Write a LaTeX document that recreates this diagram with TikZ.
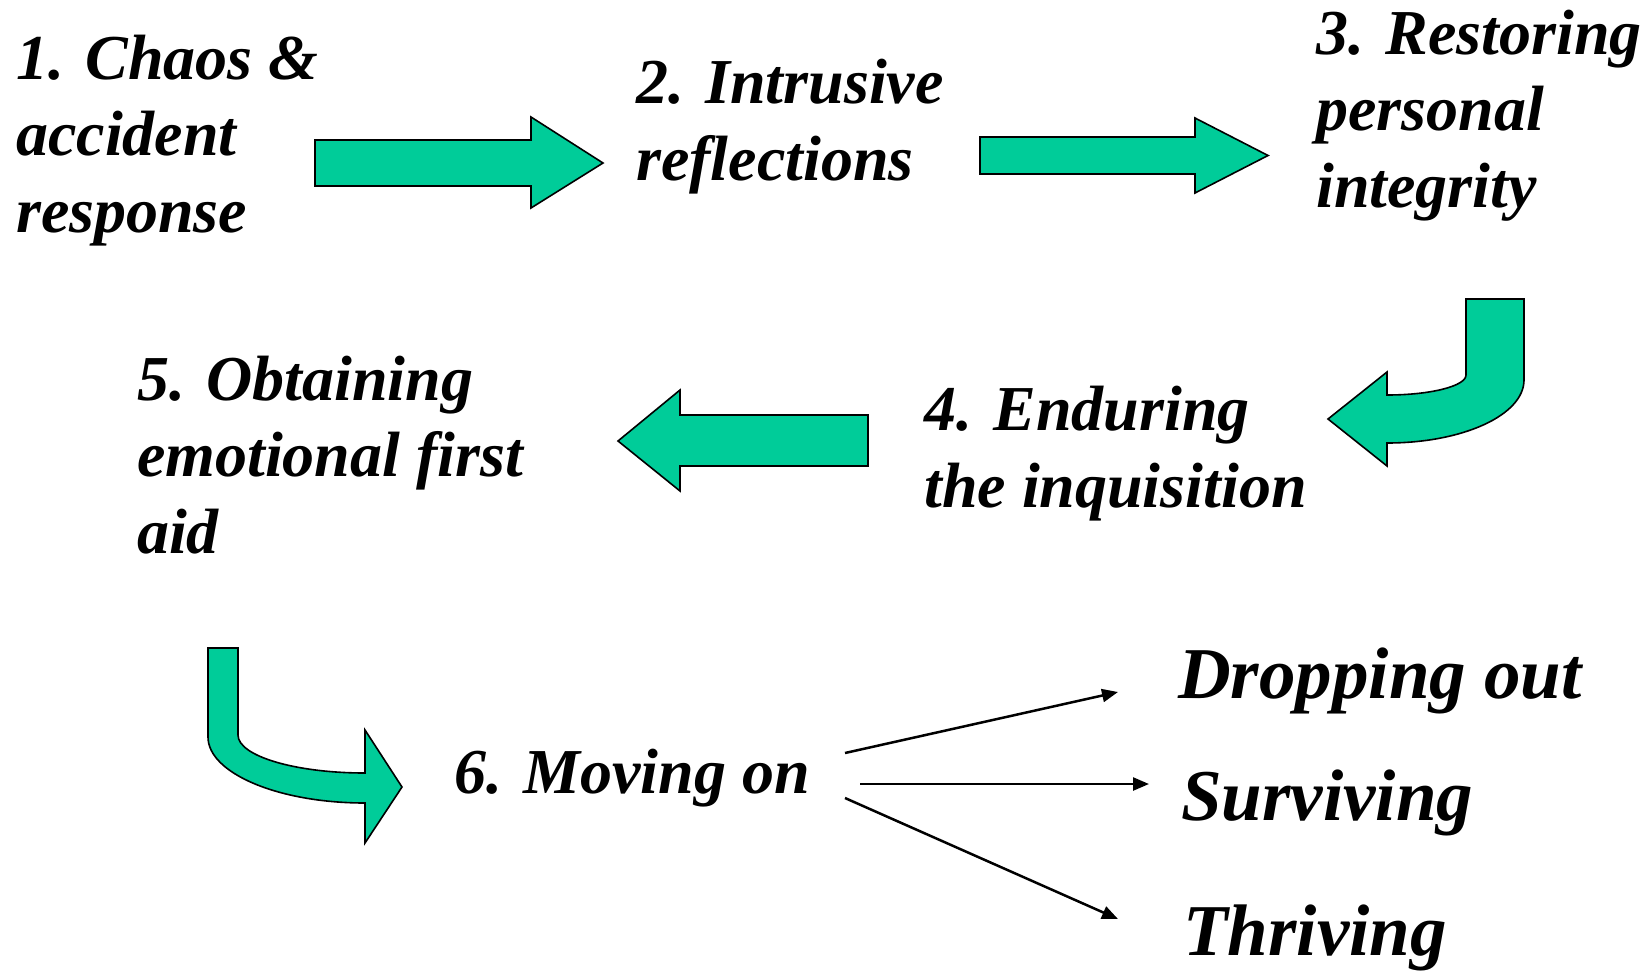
\documentclass[tikz,border=0pt]{standalone}
\usepackage{fontspec}
\setmainfont{Liberation Serif}
\usetikzlibrary{arrows.meta}
\definecolor{arrowgreen}{RGB}{0,204,153}
\tikzset{
  blockarrow/.style={fill=arrowgreen,draw=black,line width=1.6pt,line join=miter},
  stagetext/.style={anchor=base west,inner sep=0pt,align=left,font=\fontsize{64}{76.5}\selectfont\bfseries\itshape},
  outcometext/.style={anchor=base west,inner sep=0pt,align=left,font=\fontsize{73}{86}\selectfont\bfseries\itshape},
  thinarrow/.style={line width=2.5pt,-{Triangle[length=16pt,width=13pt]}}
}
\begin{document}
\begin{tikzpicture}[x=1pt,y=-1pt]
\useasboundingbox (0,0) rectangle (1647,970);
% text nodes (anchored at the baseline of the last line)
\node[stagetext] (s1) at (16,232) {1. Chaos \&\\accident\\response};
\node[stagetext] (s2) at (636,180) {2. Intrusive\\reflections};
\node[stagetext] (s3) at (1316,207) {3. Restoring\\personal\\integrity};
\node[stagetext] (s4) at (924,507) {4. Enduring\\the inquisition};
\node[stagetext] (s5) at (137,553) {5. Obtaining\\emotional first\\aid};
\node[stagetext] (s6) at (454,793) {6. Moving on};
\node[outcometext] (o1) at (1178,698) {Dropping out};
\node[outcometext] (o2) at (1181,820) {Surviving};
\node[outcometext] (o3) at (1183,955) {Thriving};
% block arrows
\draw[blockarrow] (315,140) -- (531,140) -- (531,117) -- (603,163) -- (531,208) -- (531,186) -- (315,186) -- cycle;
\draw[blockarrow] (980,137) -- (1195,137) -- (1195,118) -- (1268,155.5) -- (1195,193) -- (1195,174) -- (980,174) -- cycle;
\draw[blockarrow] (868,415) -- (680,415) -- (680,390) -- (618,441) -- (680,491) -- (680,466) -- (868,466) -- cycle;
\draw[blockarrow] (1466,299) -- (1524,299) -- (1524,380)
  .. controls (1524,415) and (1463,443) .. (1387,443)
  -- (1387,466) -- (1328,419) -- (1387,372) -- (1387,395)
  .. controls (1431,395) and (1466,386) .. (1466,375) -- cycle;
\draw[blockarrow] (208,648) -- (238,648) -- (238,735)
  .. controls (238,756) and (295,773) .. (365,773)
  -- (365,730) -- (402,787) -- (365,843) -- (365,803)
  .. controls (278,803) and (208,773) .. (208,737) -- cycle;
% thin arrows
\coordinate (a1s) at (845,753);
\coordinate (a1e) at (1118,692);
\coordinate (a2s) at (860,784);
\coordinate (a2e) at (1149,784);
\coordinate (a3s) at (845,798);
\coordinate (a3e) at (1118,919);
\draw[thinarrow] (a1s) -- (a1e);
\draw[thinarrow] (a2s) -- (a2e);
\draw[thinarrow] (a3s) -- (a3e);
\end{tikzpicture}
\end{document}
